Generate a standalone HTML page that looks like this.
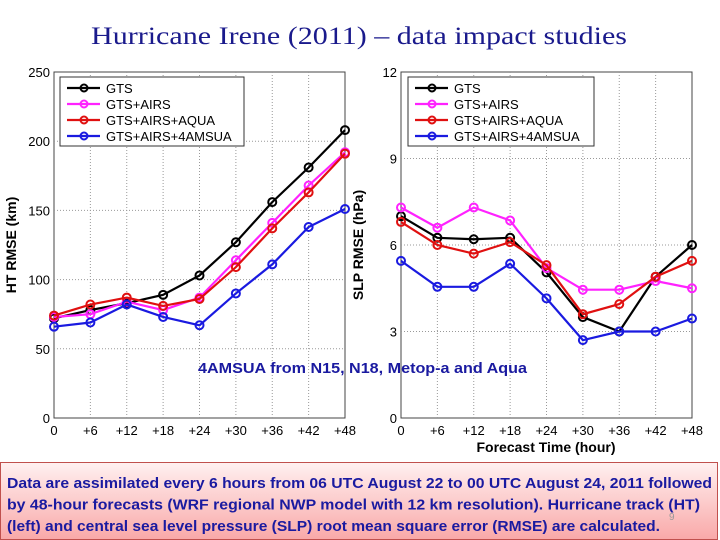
<!DOCTYPE html>
<html><head><meta charset="utf-8">
<style>
body{margin:0;width:720px;height:540px;overflow:hidden;background:#fff;font-family:"Liberation Sans",sans-serif}
svg{position:absolute;left:0;top:0}
#note{position:absolute;left:0;top:462px;width:716px;height:76px;border:1px solid #c0504d;background:linear-gradient(#fff0f0,#f9a9a9);}
</style></head><body>
<div id="note"></div>
<svg id="chart" width="720" height="540">
<text x="91" y="44" textLength="536" lengthAdjust="spacingAndGlyphs" font-family="Liberation Serif" font-size="25" fill="#1a1a8c">Hurricane Irene (2011) – data impact studies</text>
</svg>
<script>
const categories=["0","+6","+12","+18","+24","+30","+36","+42","+48"];
const seriesNames=["GTS","GTS+AIRS","GTS+AIRS+AQUA","GTS+AIRS+4AMSUA"];
const colors=["#000","#ff22ff","#e01010","#1a1ae0"];
const htGTS=[72,78,83,89,103,127,156,181,208];
const htAIRS=[73,75,84,78,87,114,141,168,192];
const htAQUA=[74,82,87,81,86,109,137,163,191];
const htAMSUA=[66,69,82,73,67,90,111,138,151];
const slpGTS=[7.0,6.25,6.2,6.25,5.05,3.5,3.0,4.9,6.0];
const slpAIRS=[7.3,6.6,7.3,6.85,5.2,4.45,4.45,4.75,4.5];
const slpAQUA=[6.8,6.0,5.7,6.1,5.3,3.6,3.95,4.9,5.45];
const slpAMSUA=[5.45,4.55,4.55,5.35,4.15,2.7,3.0,3.0,3.45];
const htTicks=[0,50,100,150,200,250];
const slpTicks=[0,3,6,9,12];
const NS="http://www.w3.org/2000/svg";
const svg=document.getElementById('chart');
function mk(t,a,p){const e=document.createElementNS(NS,t);for(const k in a)e.setAttribute(k,a[k]);(p||svg).appendChild(e);return e;}
function panel(x0,x1,y0,y1,max,ticks,series,ylabel,legX,legW,pname){
  const g=mk('g',{});
  
  
  const xs=i=>x0+(x1-x0)*i/(categories.length-1);
  const ys=v=>y1-(y1-y0)*v/max;
  mk('rect',{x:x0,y:y0,width:x1-x0,height:y1-y0,fill:'#fff',stroke:'#444','stroke-width':1},g);
  categories.forEach((c,i)=>{
    if(i>0&&i<categories.length-1)mk('line',{x1:xs(i),x2:xs(i),y1:y0,y2:y1,stroke:'#999','stroke-dasharray':'1,2'},g);
    const t=mk('text',{x:xs(i),y:y1+17,'text-anchor':'middle','font-size':13},g);t.textContent=c;
    
    
  });
  ticks.forEach(v=>{
    if(v>0&&v<max)mk('line',{x1:x0,x2:x1,y1:ys(v),y2:ys(v),stroke:'#999','stroke-dasharray':'1,2'},g);
    const t=mk('text',{x:x0-4,y:ys(v)+5,'text-anchor':'end','font-size':13},g);t.textContent=v;
    
    
  });
  const yl=mk('text',{x:0,y:0,transform:`translate(${x0-38},${(y0+y1)/2}) rotate(-90)`,'text-anchor':'middle','font-size':14,'font-weight':'bold'},g);
  yl.textContent=ylabel;
  
  
  series.forEach((s,k)=>{
    const pl=mk('polyline',{points:s.map((v,i)=>xs(i)+','+ys(v)).join(' '),fill:'none',stroke:colors[k],'stroke-width':2.2},g);
    
    
    s.forEach((v,i)=>{const c=mk('circle',{cx:xs(i),cy:ys(v),r:4,fill:'none',stroke:colors[k],'stroke-width':2},g);
      
      });
  });
  const lg=mk('g',{},g);
  
  
  mk('rect',{x:legX,y:y0+5,width:legW,height:69,fill:'#fff',stroke:'#333'},lg);
  seriesNames.forEach((n,k)=>{
    const yy=y0+16+k*16;
    mk('line',{x1:legX+7,x2:legX+40,y1:yy,y2:yy,stroke:colors[k],'stroke-width':2.2},lg);
    mk('circle',{cx:legX+24,cy:yy,r:3.5,fill:'none',stroke:colors[k],'stroke-width':2},lg);
    const t=mk('text',{x:legX+46,y:yy+5,'font-size':13},lg);t.textContent=n;
    
    
  });
}
panel(54,345,72,418,250,htTicks,[htGTS,htAIRS,htAQUA,htAMSUA],'HT RMSE (km)',60,184,'ht-panel');
panel(401,692,72,418,12,slpTicks,[slpGTS,slpAIRS,slpAQUA,slpAMSUA],'SLP RMSE (hPa)',408,186,'slp-panel');
const xt=mk('text',{x:546,y:452,'text-anchor':'middle','font-size':14,'font-weight':'bold'});
xt.textContent='Forecast Time (hour)';


const an=mk('text',{x:198,y:373,textLength:329,lengthAdjust:'spacingAndGlyphs','font-size':14.5,'font-weight':'bold',fill:'#1a1aa0'});
an.textContent='4AMSUA from N15, N18, Metop-a and Aqua';


const noteLines=[["Data are assimilated every 6 hours from 06 UTC August 22 to 00 UTC August 24, 2011 followed",705],["by 48-hour forecasts (WRF regional NWP model with 12 km resolution).  Hurricane track (HT)",693],["(left) and central sea level pressure (SLP) root mean square error (RMSE) are calculated.",653]];
noteLines.forEach((l,i)=>{
  const t=mk('text',{x:7,y:488+i*21.5,textLength:l[1],lengthAdjust:'spacingAndGlyphs','font-size':15,'font-weight':'bold',fill:'#1a1aa0','xml:space':'preserve'});
  t.textContent=l[0];
  
  
});
const pg=mk('text',{x:669,y:520,'font-size':10,fill:'#999'});
pg.textContent='9';


</script>
</body></html>
